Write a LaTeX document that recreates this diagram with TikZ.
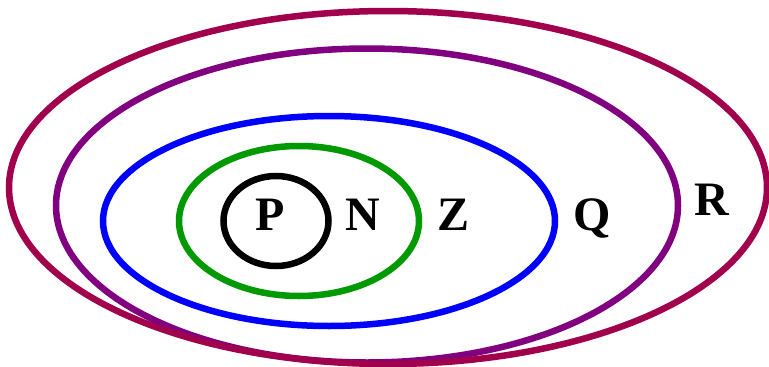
\documentclass[tikz,border=0pt]{standalone}
\usepackage{fontspec}
\setmainfont{Liberation Serif}
\usepackage{xcolor}
\usepackage{tikz}

\definecolor{setP}{HTML}{000000}
\definecolor{setN}{HTML}{009900}
\definecolor{setZ}{HTML}{0000FF}
\definecolor{setQ}{HTML}{800080}
\definecolor{setR}{HTML}{A0004C}

\begin{document}
\begin{tikzpicture}[
  x=1pt, y=-1pt,
  setline/.style={line width=6.5pt},
  setlabel/.style={anchor=base, inner sep=0pt, font=\fontsize{48}{48}\selectfont\bfseries}
]
\useasboundingbox (0,0) rectangle (769,367);
% nested sets, inner to outer
\draw[setline, setP] (276,221) ellipse [x radius=52.5, y radius=45];
\draw[setline, setN] (299,221) ellipse [x radius=120, y radius=75];
\draw[setline, setZ] (329,221) ellipse [x radius=226, y radius=105];
\draw[setline, setQ] (367,205.5) ellipse [x radius=311, y radius=157];
\draw[setline, setR] (388,187.5) ellipse [x radius=379, y radius=176.5];
% labels
\node[setlabel] (p) at (270,230) {P};
\node[setlabel] (n) at (363,230) {N};
\node[setlabel] (z) at (454,230) {Z};
\node[setlabel] (q) at (592,230) {Q};
\node[setlabel] (r) at (712,215) {R};
\end{tikzpicture}
\end{document}
